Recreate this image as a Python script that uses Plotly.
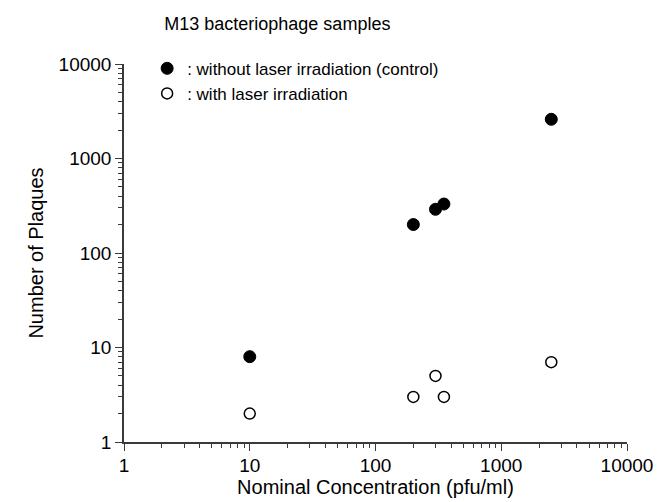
import plotly.graph_objects as go

# Data
conc_control = [10, 200, 300, 350, 2500]
plaques_control = [8, 200, 290, 330, 2600]
conc_laser = [10, 200, 300, 350, 2500]
plaques_laser = [2, 3, 5, 3, 7]

tick_vals = [1, 10, 100, 1000, 10000]
tick_text = ["1", "10", "100", "1000", "10000"]
minor_vals = [m * d for d in [1, 10, 100, 1000] for m in range(2, 10)]

FONT = "Arial, Liberation Sans, Helvetica, sans-serif"
AX = "#3a3a3a"

fig = go.Figure()
fig.add_trace(go.Scatter(
    x=conc_control, y=plaques_control, mode="markers",
    name=": without laser irradiation (control)",
    marker=dict(symbol="circle", size=12, color="black", line=dict(color="black", width=1)),
))
fig.add_trace(go.Scatter(
    x=conc_laser, y=plaques_laser, mode="markers",
    name=": with laser irradiation",
    marker=dict(symbol="circle", size=11, color="white", line=dict(color="black", width=1.5)),
))

axis_common = dict(
    type="log", showline=True, linecolor=AX, linewidth=1.5, mirror=False,
    showgrid=False, zeroline=False, ticks="outside", ticklen=7, tickwidth=1.2,
    tickcolor=AX, tickmode="array", tickvals=tick_vals, ticktext=tick_text,
    tickfont=dict(family=FONT, size=19, color="black"),
    minor=dict(tickmode="array", tickvals=minor_vals, ticks="outside", ticklen=4,
               tickwidth=1, tickcolor=AX, showgrid=False),
    range=[0, 4],
)

fig.update_layout(
    width=665, height=502,
    margin=dict(l=116, r=46, t=56, b=68),
    paper_bgcolor="white", plot_bgcolor="white",
    font=dict(family=FONT, color="black"),
    title=dict(text="M13 bacteriophage samples", x=0.235, xanchor="left",
               y=0.968, yanchor="middle", font=dict(size=18, family=FONT, color="black")),
    xaxis=dict(axis_common, ticklabelstandoff=-2,
               title=dict(text="Nominal Concentration (pfu/ml)",
                          font=dict(size=20, family=FONT), standoff=2)),
    yaxis=dict(axis_common, title=dict(text="Number of Plaques",
                                       font=dict(size=20, family=FONT), standoff=10)),
    legend=dict(x=0.046, y=1.035, xanchor="left", yanchor="top",
                bgcolor="rgba(0,0,0,0)", font=dict(size=17, family=FONT),
                itemwidth=30, tracegroupgap=0),
    showlegend=True,
)

fig.write_html("out.html")
